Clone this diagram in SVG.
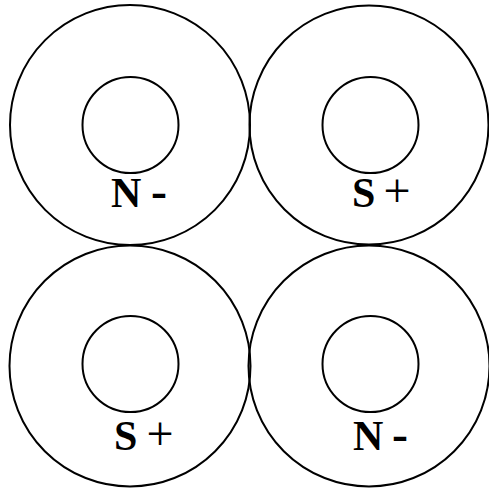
<svg xmlns="http://www.w3.org/2000/svg" width="489" height="493" viewBox="0 0 489 493">
<style>
circle{fill:none;stroke:#000;stroke-width:2}
text{font-family:"Liberation Serif","Times New Roman",serif;font-size:42px;fill:#000}
.b{font-weight:bold}
.s{font-size:48px}
</style>
<rect width="489" height="493" fill="#fff"/>
<g id="magnet-tl">
<circle cx="130" cy="125" r="120"/>
<circle cx="130.5" cy="125" r="48"/>
<text y="207"><tspan class="b" x="111">N</tspan><tspan class="b s" x="151">-</tspan></text>
</g>
<g id="magnet-tr">
<circle cx="369" cy="125" r="119.5"/>
<circle cx="370.5" cy="125" r="48"/>
<text y="207"><tspan class="b" x="352">S</tspan><tspan class="s" x="383.5">+</tspan></text>
</g>
<g id="magnet-bl">
<circle cx="130" cy="366" r="120.5"/>
<circle cx="130.5" cy="364" r="48"/>
<text y="450"><tspan class="b" x="114">S</tspan><tspan class="s" x="146.5">+</tspan></text>
</g>
<g id="magnet-br">
<circle cx="369" cy="366" r="120.5"/>
<circle cx="370.5" cy="364" r="48"/>
<text y="450"><tspan class="b" x="353">N</tspan><tspan class="b s" x="392">-</tspan></text>
</g>
</svg>
